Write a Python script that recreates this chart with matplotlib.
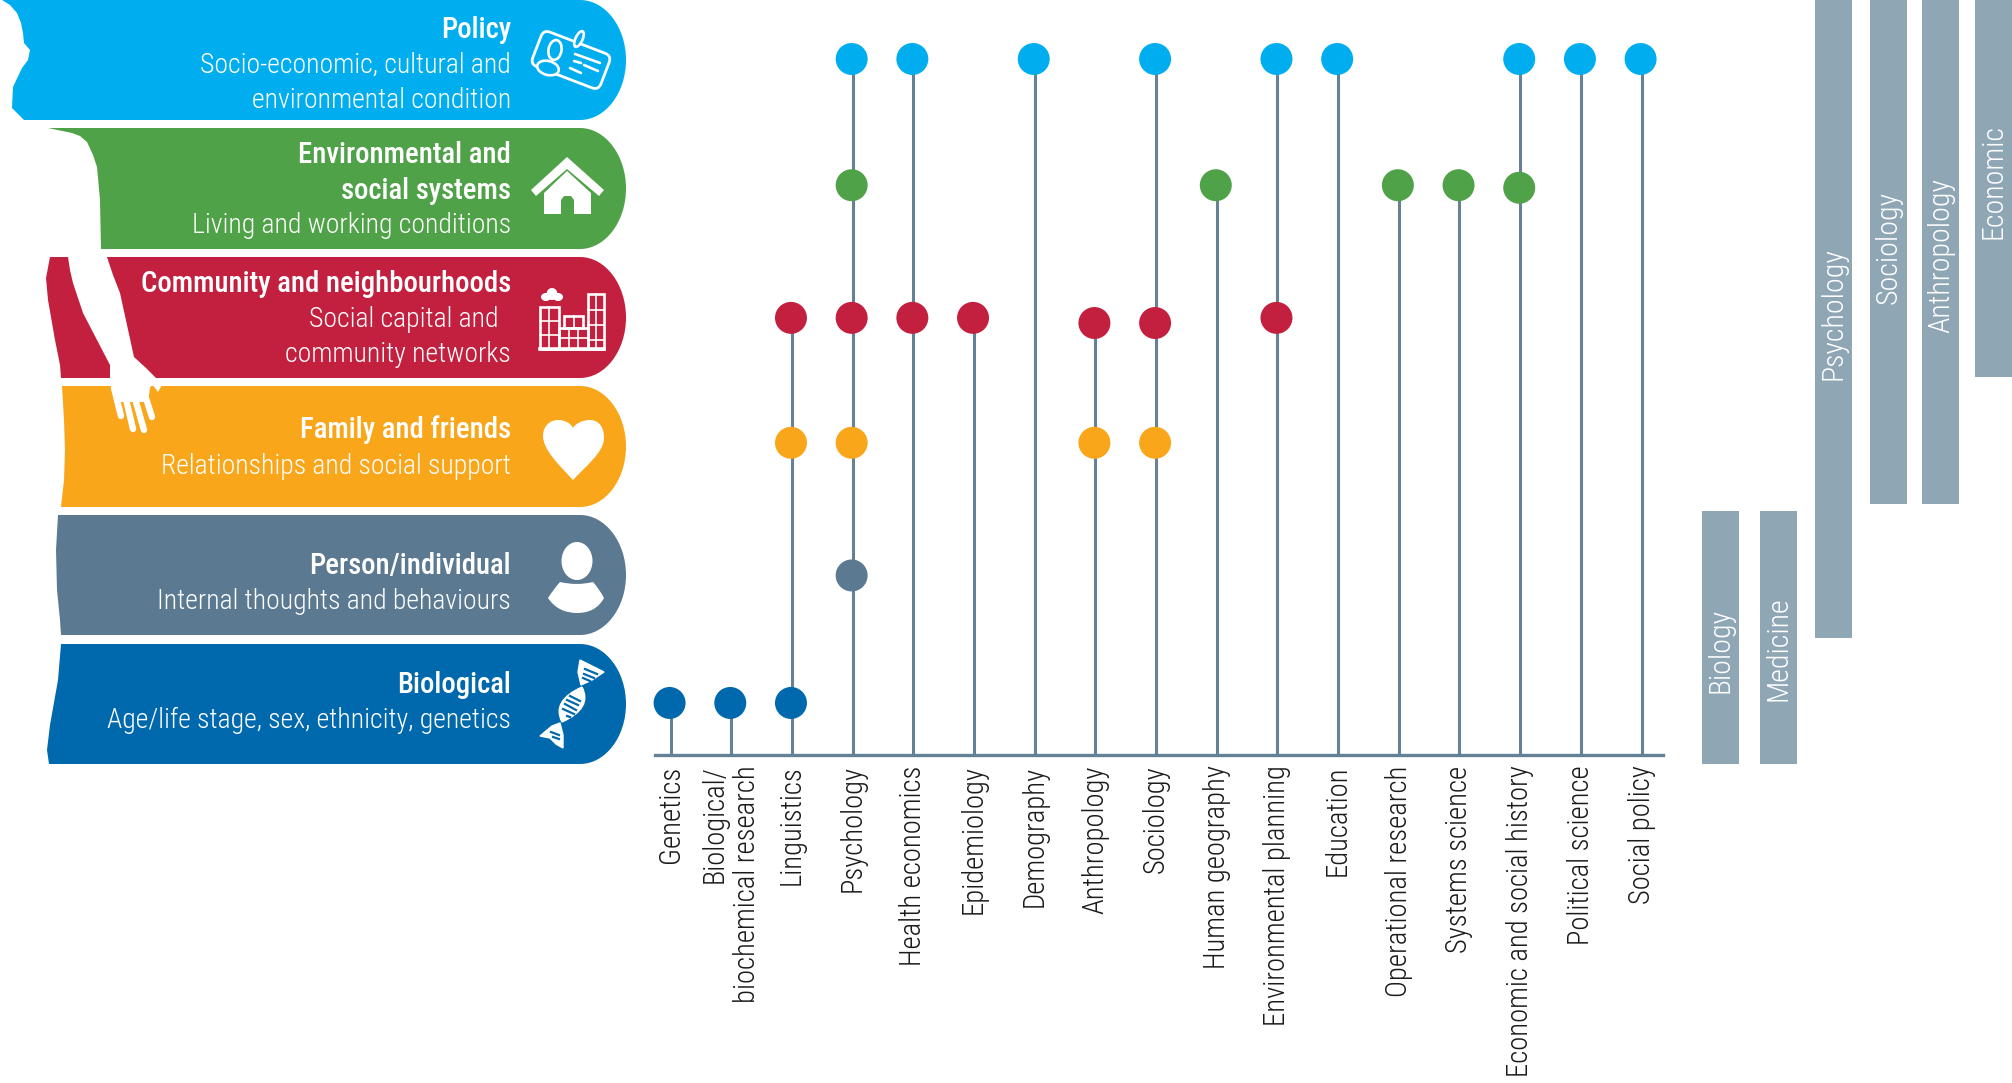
import numpy as np
import matplotlib
matplotlib.use("Agg")
import matplotlib.pyplot as plt
from matplotlib.path import Path
from matplotlib.patches import PathPatch, Polygon, Ellipse, FancyBboxPatch, Rectangle
from matplotlib.transforms import Affine2D

plt.rcParams['font.family'] = ['Roboto Condensed', 'DejaVu Sans']

disciplines = ['Genetics', 'Biological/\nbiochemical research', 'Linguistics', 'Psychology',
               'Health economics', 'Epidemiology', 'Demography', 'Anthropology', 'Sociology',
               'Human geography', 'Environmental planning', 'Education', 'Operational research',
               'Systems science', 'Economic and social history', 'Political science', 'Social policy']

policy_fields = ['Psychology', 'Health economics', 'Demography', 'Sociology', 'Environmental planning',
                 'Education', 'Economic and social history', 'Political science', 'Social policy']
policy_levels = [5, 5, 5, 5, 5, 5, 5, 5, 5]
env_fields = ['Psychology', 'Human geography', 'Operational research', 'Systems science',
              'Economic and social history']
env_levels = [4.02, 4.02, 4.02, 4.02, 4.0]
community_fields = ['Linguistics', 'Psychology', 'Health economics', 'Epidemiology', 'Anthropology',
                    'Sociology', 'Environmental planning']
community_levels = [2.99, 2.99, 2.99, 2.99, 2.95, 2.95, 2.99]
family_fields = ['Linguistics', 'Psychology', 'Anthropology', 'Sociology']
family_levels = [2.02, 2.02, 2.02, 2.02]
person_fields = ['Psychology']
person_levels = [0.99]
bio_fields = ['Genetics', 'Biological/\nbiochemical research', 'Linguistics']
bio_levels = [0, 0, 0]

broad_names = ['Biology', 'Medicine', 'Psychology', 'Sociology', 'Anthropology', 'Economic']
broad_top = [511, 511, 0, 0, 0, 0]
broad_bottom = [764, 764, 638, 504, 504, 377]

band_titles = [['Policy'], ['Environmental and', 'social systems'], ['Community and neighbourhoods'],
               ['Family and friends'], ['Person/individual'], ['Biological']]
band_subtitles = [['Socio-economic, cultural and', 'environmental condition'],
                  ['Living and working conditions'],
                  ['Social capital and  ', 'community networks'],
                  ['Relationships and social support'],
                  ['Internal thoughts and behaviours'],
                  ['Age/life stage, sex, ethnicity, genetics']]

C_POLICY = '#00aeef'
C_ENV = '#50a248'
C_COMM = '#c3203f'
C_FAM = '#faa61a'
C_PERSON = '#5b7a92'
C_BIO = '#0069ad'
C_LINE = '#648196'
C_BAR = '#8fa6b5'
C_TEXT = '#1a1a1a'

TITLE_SIZE = 20.7
SUB_SIZE = 20
TICK_SIZE = 20.6
BAR_SIZE = 21.5

fig = plt.figure(figsize=(20.12, 10.83), dpi=100)
ax = fig.add_axes([0, 0, 1, 1])
ax.set_xlim(0, 2012)
ax.set_ylim(1083, 0)
ax.axis('off')


def band(left_edge, color, x_right=626):
    # left_edge goes from the top of the band to the bottom
    y0 = left_edge[0][1]
    y1 = left_edge[-1][1]
    ym = (y0 + y1) / 2
    rx = 46
    ry = (y1 - y0) / 2
    k = 0.55
    xf = x_right - rx
    verts = [left_edge[0], (xf, y0),
             (xf + k * rx, y0), (x_right, ym - k * ry), (x_right, ym),
             (x_right, ym + k * ry), (xf + k * rx, y1), (xf, y1)]
    codes = [Path.MOVETO, Path.LINETO] + [Path.CURVE4] * 6
    for p in left_edge[::-1]:
        verts.append(p)
        codes.append(Path.LINETO)
    ax.add_patch(PathPatch(Path(verts, codes), facecolor=color, edgecolor='none', zorder=1))


band([(2, 0), (10, 5), (17, 13), (21, 23), (23, 33), (24, 43), (30, 50), (28, 60), (22, 68), (13, 87),
      (12, 108), (24, 120)], C_POLICY)
band([(48, 128), (72, 133), (80, 136), (87, 142), (93, 155), (97, 167), (100, 200), (101, 249)], C_ENV)
band([(50, 257), (46, 278), (48, 300), (55, 340), (60, 365), (61, 378)], C_COMM)
band([(62, 386), (64, 420), (65, 450), (64, 480), (61, 507)], C_FAM)
band([(58, 515), (56, 550), (57, 590), (60, 620), (61, 635)], C_PERSON)
band([(61, 644), (58, 680), (50, 725), (47, 750), (49, 764)], C_BIO)

# arm and hand
arm = [(68, 257), (70, 270), (73, 283), (83, 313), (110, 365), (110, 377), (111, 387), (118, 402), (148, 402),
       (150, 388), (152, 384), (158, 392), (162, 385), (155, 377), (146, 368), (134, 357), (127, 325), (120, 293),
       (113, 275), (107, 257)]
ax.add_patch(Polygon(arm, closed=True, facecolor='white', edgecolor='none', zorder=2))
for (xa, ya, xb, yb) in [(114, 388, 121, 416), (125, 395, 133, 429), (134, 395, 144, 430), (144, 392, 152, 417)]:
    ax.plot([xa, xb], [ya, yb], color='white', lw=4.6, solid_capstyle='round', zorder=2)

# band texts, baselines read per row
title_base = [[38], [163, 199], [292], [438], [574], [693]]
sub_base = [[73, 108], [233], [327, 362], [474], [609], [728]]
for i in range(6):
    for txt, y in zip(band_titles[i], title_base[i]):
        ax.text(511, y, txt, color='white', fontsize=TITLE_SIZE, fontweight=500, ha='right', va='baseline', zorder=3)
    for txt, y in zip(band_subtitles[i], sub_base[i]):
        ax.text(511, y, txt, color='white', fontsize=SUB_SIZE, fontweight=300, ha='right', va='baseline', zorder=3)

# id card icon
WH = dict(color='white', lw=1.9, solid_capstyle='round', zorder=3)
rot = Affine2D().rotate_deg_around(571, 60, 21) + ax.transData
ax.add_patch(FancyBboxPatch((537, 44), 68, 32, boxstyle='round,pad=2.5,rounding_size=7', facecolor='none',
                            edgecolor='white', lw=2.0, transform=rot, zorder=3))
ax.add_patch(Ellipse((579, 39), 7, 17, angle=25, facecolor=C_POLICY, edgecolor='white', lw=1.9, zorder=4))
ax.add_patch(Ellipse((548, 68), 22, 14, angle=15, facecolor=C_POLICY, edgecolor='white', lw=1.9, zorder=3.5))
ax.add_patch(Ellipse((555, 50), 13, 20, angle=10, facecolor=C_POLICY, edgecolor='white', lw=1.9, zorder=4))
ax.plot([575, 600], [54, 63], **WH)
ax.plot([574, 581], [61, 63], **WH)
ax.plot([584, 598], [65, 71], **WH)
ax.plot([570, 581], [68, 73], **WH)

# house icon
ax.add_patch(Polygon([(567, 157), (604, 190), (599, 196), (567, 169), (536, 196), (531, 190)], closed=True,
                     facecolor='white', edgecolor='none', zorder=3))
ax.add_patch(Polygon([(544, 193), (567, 171), (591, 193), (591, 214), (574, 214), (574, 200), (571, 196), (564, 196),
                      (561, 200), (561, 214), (544, 214)], closed=True, facecolor='white', edgecolor='none', zorder=3))

# buildings icon
for (x0, y0, x1, y1) in [(540, 307, 559, 349), (564, 316, 583, 328), (559, 328, 588, 349), (588, 294, 604, 349)]:
    ax.add_patch(Rectangle((x0, y0), x1 - x0, y1 - y0, facecolor='none', edgecolor='white', lw=1.9, zorder=3))
ax.plot([540, 604], [349, 349], color='white', lw=2.6, zorder=3)
for x, y_top, y_low in [(549.5, 307, 349), (569, 328, 349), (578, 328, 349), (574, 316, 328), (596, 294, 349)]:
    ax.plot([x, x], [y_top, y_low], color='white', lw=1.2, zorder=3)
for (x0, x1, y) in [(540, 559, 321), (540, 559, 335), (559, 588, 338), (588, 604, 310), (588, 604, 325), (588, 604, 340)]:
    ax.plot([x0, x1], [y, y], color='white', lw=1.2, zorder=3)
for (cx, cy, w, h) in [(552, 294, 11, 12), (546, 297, 10, 8), (558, 297, 10, 8)]:
    ax.add_patch(Ellipse((cx, cy), w, h, facecolor='white', edgecolor='none', zorder=3))

# heart icon
heart = [(573, 480), (560, 466), (543, 450), (543, 436), (543, 426), (550, 420), (558, 420), (566, 420), (571, 424), (573, 428),
         (575, 424), (582, 420), (590, 420), (598, 420), (604, 426), (604, 438), (604, 452), (586, 466), (573, 480)]
ax.add_patch(PathPatch(Path(heart, [Path.MOVETO] + [Path.CURVE4] * 18), facecolor='white', edgecolor='none', zorder=3))

# person icon
ax.add_patch(Ellipse((577, 561), 31, 38, facecolor='white', edgecolor='none', zorder=3))
body = [(548, 598), (553, 590), (560, 582), (577, 586), (593, 582), (600, 590), (604, 598), (596, 613), (577, 613), (558, 613), (548, 598)]
ax.add_patch(PathPatch(Path(body, [Path.MOVETO] + [Path.CURVE3] * 10), facecolor='white', edgecolor='none', zorder=3))

# dna icon
dna_mid = [(582, 687), (593, 708), (562, 722), (551, 701), (582, 687)]
ax.add_patch(PathPatch(Path(dna_mid, [Path.MOVETO] + [Path.CURVE3] * 4), facecolor='white', edgecolor='white', lw=1, zorder=3))
ax.add_patch(Polygon([(580, 660), (604, 672), (592, 680), (581, 685), (578, 672)], closed=True, facecolor='white', edgecolor='white', lw=1, zorder=3))
ax.add_patch(Polygon([(540, 736), (552, 726), (560, 723), (563, 735), (563, 748), (556, 744), (550, 738)], closed=True, facecolor='white', edgecolor='white', lw=1, zorder=3))
for (xa, ya, xb, yb) in [(570, 696, 580, 701), (567, 700, 578, 705), (565, 704, 576, 710), (563, 709, 574, 714), (567, 716, 570, 717),
                         (585, 669, 597, 674), (584, 674, 594, 678), (583, 678, 590, 681),
                         (551, 732, 559, 735), (553, 737, 559, 739)]:
    ax.plot([xa, xb], [ya, yb], color=C_BIO, lw=1.6, zorder=4)

# broad discipline bars on the right
bar_x = [1720.5, 1778.5, 1833.5, 1889, 1941, 1993.5]
bar_w = 37
ax.bar(bar_x, np.array(broad_bottom) - np.array(broad_top), bottom=broad_top, width=bar_w, color=C_BAR, zorder=1)
label_bottom = [693, 701, 380, 304, 333, 239]
for x, name, yb in zip(bar_x, broad_names, label_bottom):
    ax.text(x, yb, name, color='white', fontsize=BAR_SIZE, fontweight=300, rotation=90, ha='center', va='bottom', zorder=3)

# dots and stems
ax2 = fig.add_axes([654.6 / 2012, (1083 - 755) / 1083, (1663 - 654.6) / 2012, 755 / 1083])
ax2.patch.set_visible(False)
ax2.set_xlim(-0.262, 16.354)
ax2.set_ylim(-0.404, 5.458)
for s in ['top', 'left', 'right']:
    ax2.spines[s].set_visible(False)
ax2.spines['bottom'].set_color(C_LINE)
ax2.spines['bottom'].set_linewidth(2.4)
ax2.set_yticks([])
ax2.set_xticks(range(len(disciplines)), disciplines, rotation=90, ha='center', va='top', multialignment='right',
               fontsize=TICK_SIZE, fontweight=300, color=C_TEXT)
ax2.tick_params(axis='x', length=0, pad=7.5)

series = [(policy_fields, policy_levels, C_POLICY), (env_fields, env_levels, C_ENV),
          (community_fields, community_levels, C_COMM), (family_fields, family_levels, C_FAM),
          (person_fields, person_levels, C_PERSON), (bio_fields, bio_levels, C_BIO)]

tops = {}
for fields, levels, color in series:
    for f, l in zip(fields, levels):
        tops[f] = max(tops.get(f, -1), l)
stem_x = [disciplines.index(f) for f in tops]
ax2.vlines(stem_x, -0.404, list(tops.values()), color=C_LINE, lw=2.2, zorder=1)

for fields, levels, color in series:
    xs = np.array([disciplines.index(f) for f in fields]) - 0.015
    ax2.scatter(xs, levels, s=530, color=color, edgecolor='none', zorder=3, clip_on=False)

fig.savefig('out.png', dpi=100, facecolor='white')
